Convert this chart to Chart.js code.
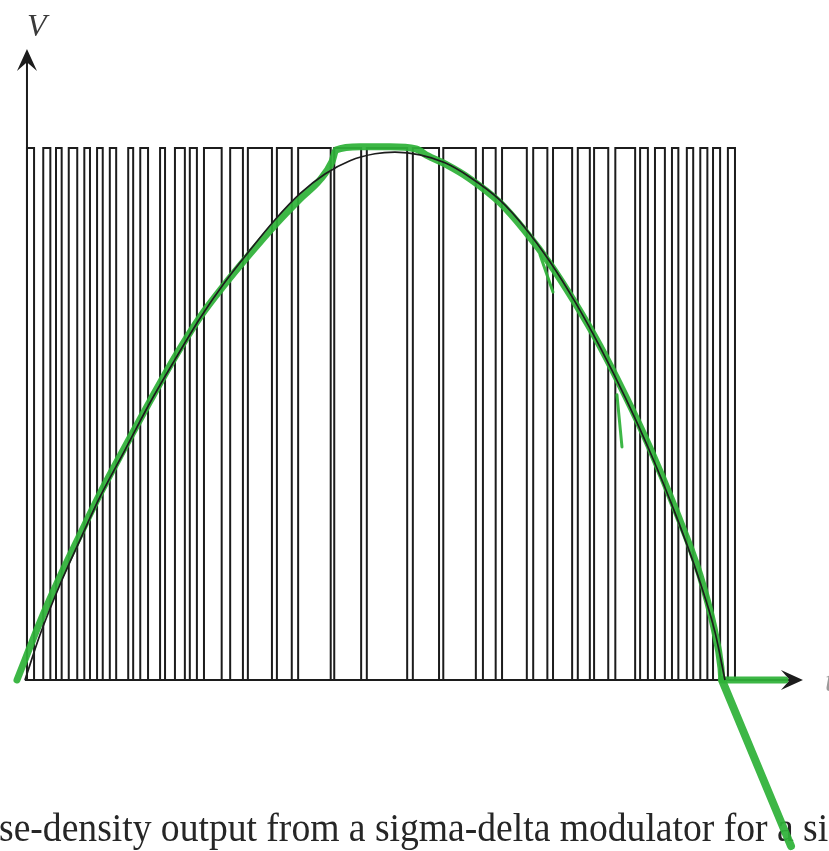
<!DOCTYPE html>
<html>
<head>
<meta charset="utf-8">
<script src="https://cdn.jsdelivr.net/npm/chart.js@4.4.1/dist/chart.umd.min.js"></script>
<style>
  html, body { margin: 0; padding: 0; background: #ffffff; }
  #wrap { width: 829px; height: 851px; position: relative; }
</style>
</head>
<body>
<div id="wrap"><canvas id="c"></canvas></div>
<script>
// Modulator output: rising and falling edge times of each pulse (time units, 0..100)
const pulseRise = [0, 2.3, 4.1, 5.9, 8.1, 9.9, 11.7, 14.3, 16.0, 18.8, 20.9, 23.0, 25.0, 28.7, 31.2,
  35.3, 38.3, 43.4, 48.0, 54.5, 58.8, 64.4, 67.1, 71.5, 74.3, 77.8, 80.1, 83.1, 86.6, 88.7,
  91.1, 93.2, 95.1, 96.9, 99.0];
const pulseFall = [1.0, 3.3, 4.9, 7.1, 8.9, 10.7, 12.6, 15.0, 17.1, 19.5, 22.3, 24.0, 27.5, 30.5, 34.6,
  37.4, 42.9, 47.2, 53.7, 58.2, 63.4, 66.2, 70.6, 73.5, 77.0, 79.5, 82.1, 85.9, 87.7, 90.1,
  92.0, 94.1, 96.1, 97.9, 100];
const pulseHigh = 1;

// Input signal (thin black curve)
const signalT = [-0.28, 1.84, 4.66, 7.49, 10.31, 13.84, 17.37, 20.90, 24.44, 27.97, 31.50, 35.03, 38.56,
  42.09, 45.62, 49.15, 51.98, 55.51, 59.04, 62.57, 66.81, 70.34, 73.87, 77.40, 80.93, 84.46,
  87.99, 91.53, 95.06, 97.18, 98.59];
const signalV = [0, 0.085, 0.179, 0.263, 0.344, 0.432, 0.521, 0.602, 0.680, 0.748, 0.808, 0.865, 0.914,
  0.951, 0.976, 0.989, 0.992, 0.987, 0.972, 0.945, 0.902, 0.850, 0.786, 0.711, 0.626, 0.532,
  0.429, 0.314, 0.184, 0.090, 0];

// Green marker trace over the signal
const traceT = [-1.41, -0.28, 1.84, 4.66, 7.49, 10.31, 13.84, 17.37, 20.90, 24.44, 27.97, 31.50, 35.03,
  38.56, 41.38, 43.08, 43.64, 47.03, 51.27, 54.94, 56.64, 59.04, 62.57, 66.81, 70.34, 73.87,
  77.40, 80.93, 84.46, 87.99, 91.53, 95.06, 97.03, 98.02, 98.16, 107.06];
const traceV = [0, 0.038, 0.109, 0.194, 0.273, 0.350, 0.438, 0.524, 0.607, 0.682, 0.744, 0.801, 0.855,
  0.904, 0.940, 0.974, 0.996, 1.002, 1.002, 0.998, 0.985, 0.970, 0.942, 0.897, 0.844, 0.782,
  0.709, 0.628, 0.536, 0.436, 0.323, 0.197, 0.098, 0.023, 0, 0];
const tailT = [98.16, 107.91];
const tailV = [0, -0.312];
const spurAT = [72.46, 74.29];
const spurAV = [0.799, 0.729];
const spurBT = [83.33, 84.04];
const spurBV = [0.536, 0.438];

// Visible window and axis extents
const tRange = [-3.81, 113.28];
const vRange = [-0.3214, 1.278];
const tAxisEnd = 109.6;
const vAxisEnd = 1.186;

const vAxisLabel = 'V';
const tAxisLabel = 't';
const caption = 'se-density output from a sigma-delta modulator for a si';

const ink = '#1c1c1c';
const marker = 'rgba(46,178,56,0.93)';

function zipPoints(xs, ys) { return xs.map((x, i) => ({ x: x, y: ys[i] })); }

const pulsePoints = [];
pulseRise.forEach((r, i) => {
  const f = pulseFall[i];
  pulsePoints.push({ x: r, y: 0 }, { x: r, y: pulseHigh }, { x: f, y: pulseHigh }, { x: f, y: 0 });
});

function arrowHead(ctx, tipX, tipY, dirX, dirY, len, half) {
  const px = -dirY, py = dirX;
  const bx = tipX - dirX * len, by = tipY - dirY * len;
  const nx = tipX - dirX * len * 0.6, ny = tipY - dirY * len * 0.6;
  ctx.beginPath();
  ctx.moveTo(tipX, tipY);
  ctx.lineTo(bx + px * half, by + py * half);
  ctx.lineTo(nx, ny);
  ctx.lineTo(bx - px * half, by - py * half);
  ctx.closePath();
  ctx.fill();
}

const decor = {
  id: 'decor',
  beforeDatasetsDraw(chart) {
    const { ctx, scales } = chart;
    const xs = scales.x, ys = scales.y;
    const ox = xs.getPixelForValue(0), oy = ys.getPixelForValue(0);
    const xEnd = xs.getPixelForValue(tAxisEnd), yEnd = ys.getPixelForValue(vAxisEnd);
    ctx.save();
    ctx.strokeStyle = ink;
    ctx.fillStyle = ink;
    ctx.lineWidth = 2;
    ctx.beginPath();
    ctx.moveTo(xs.getPixelForValue(-0.3), oy);
    ctx.lineTo(xEnd - 4, oy);
    ctx.moveTo(ox, oy);
    ctx.lineTo(ox, yEnd + 4);
    ctx.stroke();
    arrowHead(ctx, xEnd, oy, 1, 0, 22, 10);
    arrowHead(ctx, ox, yEnd, 0, -1, 22, 10);

    ctx.fillStyle = '#3a3a3a';
    ctx.font = 'italic 32px "Liberation Serif", serif';
    ctx.textBaseline = 'alphabetic';
    ctx.textAlign = 'left';
    ctx.fillText(vAxisLabel, ox, yEnd - 13);
    ctx.fillStyle = '#9a9a9a';
    ctx.fillText(tAxisLabel, xEnd + 22, oy + 11);

    // caption, slightly condensed
    ctx.fillStyle = '#262626';
    ctx.font = '40px "Liberation Serif", serif';
    ctx.translate(-1, chart.height - 10);
    ctx.scale(0.94, 1);
    ctx.fillText(caption, 0, 0);
    ctx.restore();
  }
};

new Chart(document.getElementById('c'), {
  type: 'line',
  data: {
    datasets: [
      { data: zipPoints(signalT, signalV), borderColor: ink, borderWidth: 1.7,
        cubicInterpolationMode: 'monotone', pointRadius: 0, order: 0 },
      { data: zipPoints(traceT, traceV), borderColor: marker, borderWidth: 7,
        borderCapStyle: 'round', borderJoinStyle: 'round',
        cubicInterpolationMode: 'monotone', pointRadius: 0, order: 1 },
      { data: zipPoints(tailT, tailV), borderColor: marker, borderWidth: 8,
        borderCapStyle: 'round', pointRadius: 0, order: 1 },
      { data: zipPoints(spurAT, spurAV), borderColor: marker, borderWidth: 3,
        borderCapStyle: 'round', pointRadius: 0, order: 1 },
      { data: zipPoints(spurBT, spurBV), borderColor: marker, borderWidth: 3,
        borderCapStyle: 'round', pointRadius: 0, order: 1 },
      { data: pulsePoints, borderColor: ink, borderWidth: 2, tension: 0,
        pointRadius: 0, order: 2 }
    ]
  },
  options: {
    responsive: true,
    maintainAspectRatio: false,
    animation: false,
    clip: false,
    layout: { padding: 0 },
    plugins: { legend: { display: false }, title: { display: false }, tooltip: { enabled: false } },
    scales: {
      x: { type: 'linear', min: tRange[0], max: tRange[1], display: false },
      y: { type: 'linear', min: vRange[0], max: vRange[1], display: false }
    }
  },
  plugins: [decor]
});
</script>
</body>
</html>
